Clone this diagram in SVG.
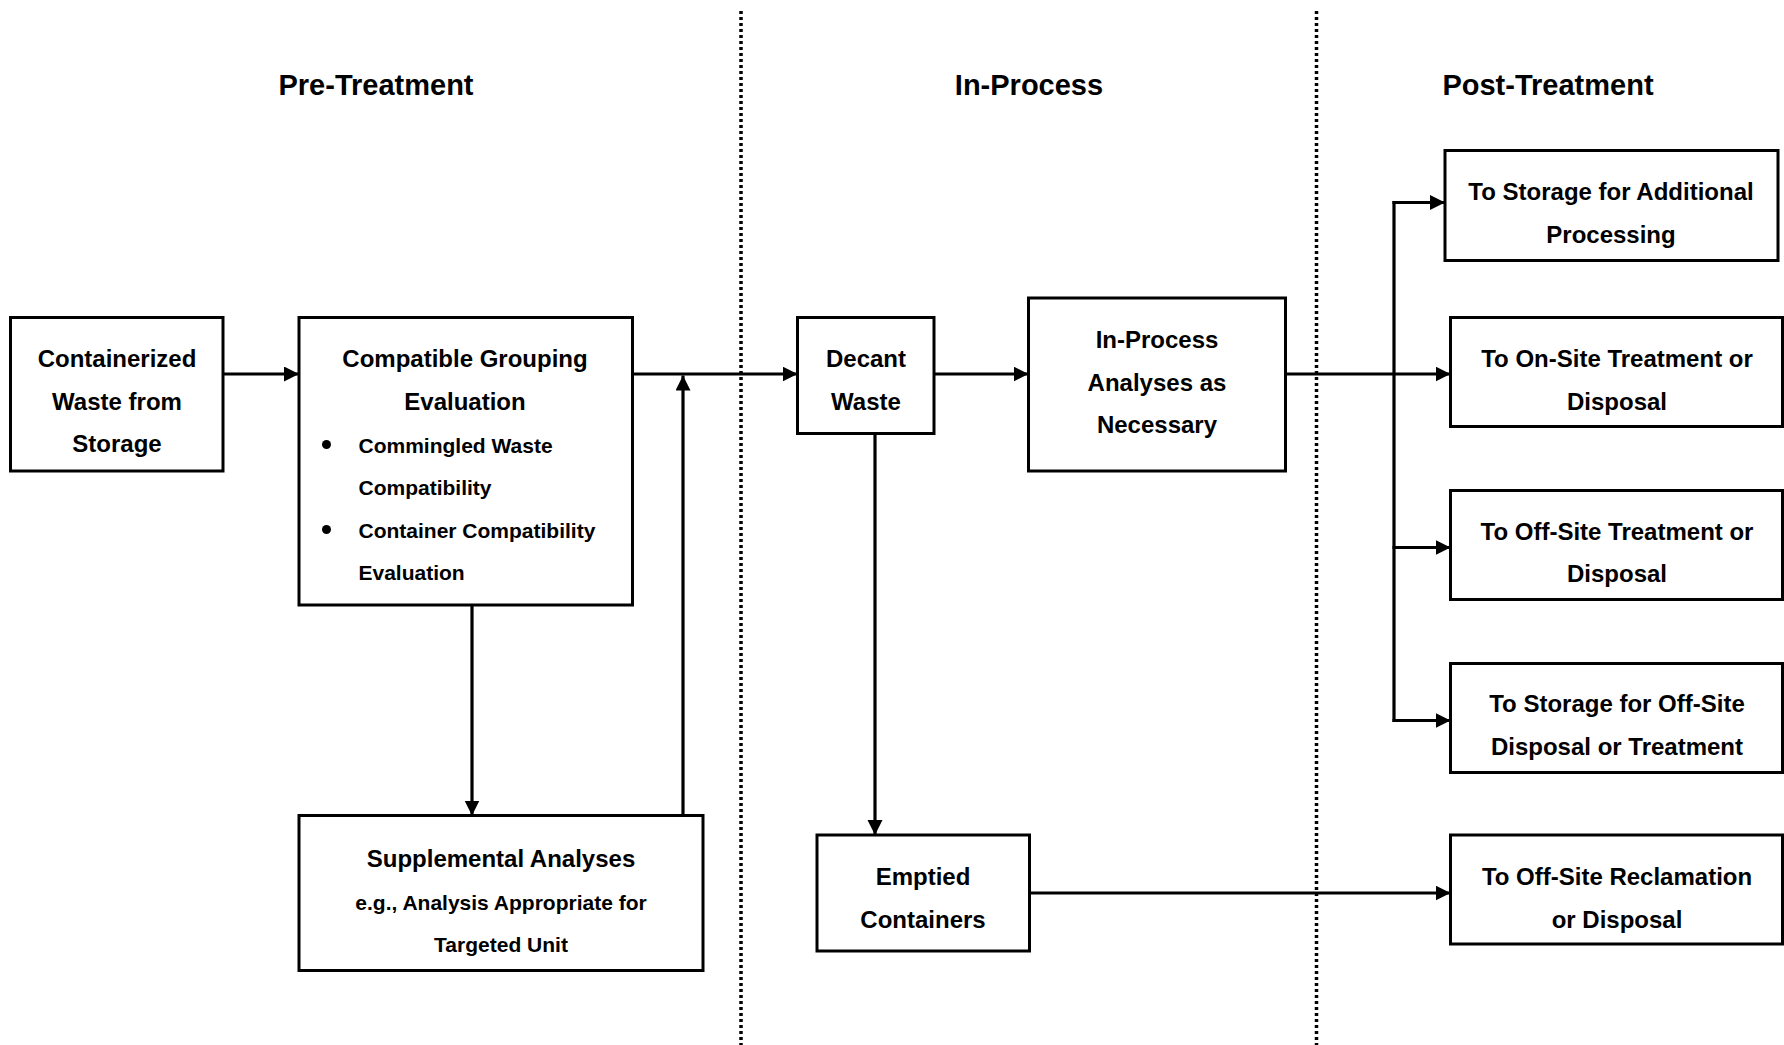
<svg xmlns="http://www.w3.org/2000/svg" width="1784" height="1045" viewBox="0 0 1784 1045">
  <style>
    .box { fill: #fff; stroke: #000; stroke-width: 3; }
    .t { font-family: "Liberation Sans", Arial, sans-serif; font-weight: bold; font-size: 24px; fill: #000; text-anchor: middle; dominant-baseline: central; }
    .s { font-size: 21px; }
    .l { text-anchor: start; }
    .h { font-size: 29px; }
    .conn { fill: none; stroke: #000; stroke-width: 3.2; }
    .arr { marker-end: url(#ah); }
    .div { stroke: #000; stroke-width: 3.5; stroke-dasharray: 3 3; }
  </style>
  <defs>
    <marker id="ah" markerUnits="userSpaceOnUse" markerWidth="16" markerHeight="16" refX="15" refY="7.5" orient="auto">
      <path d="M0,0 L15,7.5 L0,15 Z" fill="#000"/>
    </marker>
  </defs>
  <rect width="1784" height="1045" fill="#fff"/>

  <!-- phase dividers -->
  <g id="dividers">
    <line class="div" x1="741" y1="11" x2="741" y2="1045"/>
    <line class="div" x1="1316.5" y1="11" x2="1316.5" y2="1045"/>
  </g>

  <!-- phase headings -->
  <g id="headings">
    <text class="t h" x="376" y="85">Pre-Treatment</text>
    <text class="t h" x="1029" y="85">In-Process</text>
    <text class="t h" x="1548" y="85">Post-Treatment</text>
  </g>

  <!-- connectors -->
  <g id="connectors">
    <line class="conn arr" x1="223" y1="374" x2="299" y2="374"/>
    <line class="conn arr" x1="632.5" y1="374" x2="797.5" y2="374"/>
    <line class="conn arr" x1="472" y1="605" x2="472" y2="815.5"/>
    <line class="conn arr" x1="683" y1="815.5" x2="683" y2="375.5"/>
    <line class="conn arr" x1="934" y1="374" x2="1028.5" y2="374"/>
    <line class="conn arr" x1="875" y1="433.5" x2="875" y2="835"/>
    <line class="conn arr" x1="1285.5" y1="374" x2="1450.5" y2="374"/>
    <line class="conn" x1="1394" y1="201" x2="1394" y2="722"/>
    <line class="conn arr" x1="1392.5" y1="202.5" x2="1445" y2="202.5"/>
    <line class="conn arr" x1="1392.5" y1="547.5" x2="1450.5" y2="547.5"/>
    <line class="conn arr" x1="1392.5" y1="720.5" x2="1450.5" y2="720.5"/>
    <line class="conn arr" x1="1029.5" y1="893" x2="1450.5" y2="893"/>
  </g>

  <g id="containerized">
    <rect class="box" x="10.5" y="317.5" width="212.5" height="153.5"/>
    <text class="t" x="117" y="358.5">Containerized</text>
    <text class="t" x="117" y="401">Waste from</text>
    <text class="t" x="117" y="443.5">Storage</text>
  </g>

  <g id="compatible-grouping">
    <rect class="box" x="299" y="317.5" width="333.5" height="287.5"/>
    <text class="t" x="465" y="358.5">Compatible Grouping</text>
    <text class="t" x="465" y="401">Evaluation</text>
    <circle cx="326.5" cy="444.5" r="4.5" fill="#000"/>
    <text class="t s l" x="358.5" y="445">Commingled Waste</text>
    <text class="t s l" x="358.5" y="487.5">Compatibility</text>
    <circle cx="326.5" cy="529.5" r="4.5" fill="#000"/>
    <text class="t s l" x="358.5" y="530">Container Compatibility</text>
    <text class="t s l" x="358.5" y="572.5">Evaluation</text>
  </g>

  <g id="supplemental">
    <rect class="box" x="299" y="815.5" width="404" height="155"/>
    <text class="t" x="501" y="858">Supplemental Analyses</text>
    <text class="t s" x="501" y="902">e.g., Analysis Appropriate for</text>
    <text class="t s" x="501" y="944">Targeted Unit</text>
  </g>

  <g id="decant">
    <rect class="box" x="797.5" y="317.5" width="136.5" height="116"/>
    <text class="t" x="866" y="358.5">Decant</text>
    <text class="t" x="866" y="401.5">Waste</text>
  </g>

  <g id="in-process-analyses">
    <rect class="box" x="1028.5" y="298" width="257" height="173"/>
    <text class="t" x="1157" y="339.5">In-Process</text>
    <text class="t" x="1157" y="382">Analyses as</text>
    <text class="t" x="1157" y="424.5">Necessary</text>
  </g>

  <g id="emptied">
    <rect class="box" x="817" y="835" width="212.5" height="116"/>
    <text class="t" x="923" y="876">Emptied</text>
    <text class="t" x="923" y="919">Containers</text>
  </g>

  <g id="storage-additional">
    <rect class="box" x="1445" y="150.5" width="333" height="110"/>
    <text class="t" x="1611" y="191.5">To Storage for Additional</text>
    <text class="t" x="1611" y="234.5">Processing</text>
  </g>

  <g id="onsite">
    <rect class="box" x="1450.5" y="317.5" width="332" height="109"/>
    <text class="t" x="1617" y="358.5">To On-Site Treatment or</text>
    <text class="t" x="1617" y="401">Disposal</text>
  </g>

  <g id="offsite">
    <rect class="box" x="1450.5" y="490.5" width="332" height="109"/>
    <text class="t" x="1617" y="531.5">To Off-Site Treatment or</text>
    <text class="t" x="1617" y="573.5">Disposal</text>
  </g>

  <g id="storage-offsite">
    <rect class="box" x="1450.5" y="663.5" width="332" height="109"/>
    <text class="t" x="1617" y="703.5">To Storage for Off-Site</text>
    <text class="t" x="1617" y="746.5">Disposal or Treatment</text>
  </g>

  <g id="reclamation">
    <rect class="box" x="1450.5" y="835" width="332" height="109"/>
    <text class="t" x="1617" y="876">To Off-Site Reclamation</text>
    <text class="t" x="1617" y="919">or Disposal</text>
  </g>
</svg>
